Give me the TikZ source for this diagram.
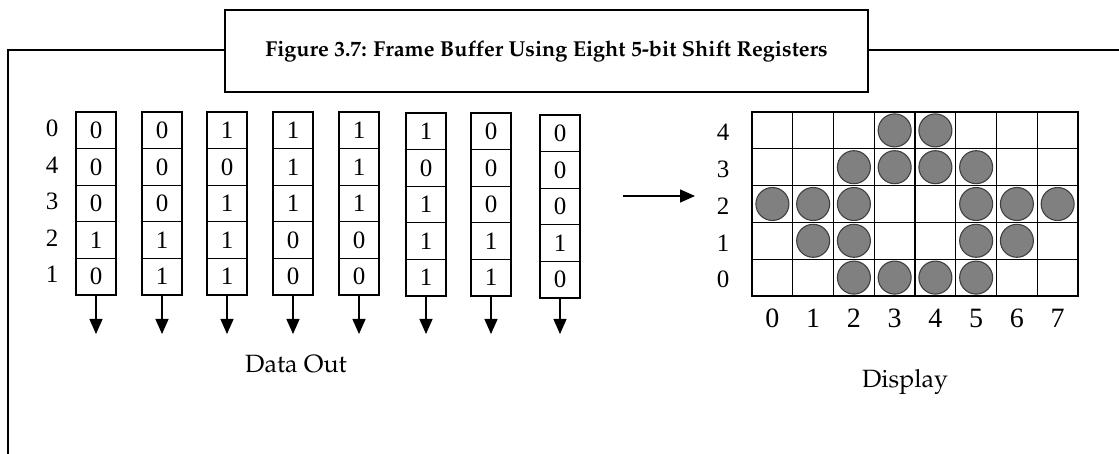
\documentclass[tikz,border=0pt]{standalone}
\usepackage{fontspec}
\setmainfont{Liberation Serif}
\usetikzlibrary{arrows.meta, positioning}
\colorlet{dotgray}{black!50}
\newcommand{\palfont}{\fontencoding{T1}\fontfamily{ppl}\selectfont}

\begin{document}
\begin{tikzpicture}[x=1pt, y=-1pt, >={Triangle[length=15pt, width=13pt]},
    bit/.style={draw, line width=1.2pt, minimum width=40pt, minimum height=36.6pt,
      inner sep=0pt, font=\fontsize{25}{25}\selectfont},
    cell/.style={draw, line width=1.3pt, minimum width=40.75pt, minimum height=36.8pt, inner sep=0pt},
    dot/.style={circle, draw=black!75, line width=1.1pt, fill=dotgray, minimum size=33pt, inner sep=0pt},
    lbl/.style={font=\fontsize{25}{25}\selectfont},
    caption/.style={font=\palfont\fontsize{25}{25}\selectfont}]
  \useasboundingbox (0,0) rectangle (1119,454);

  % title box and frame
  \node[draw, line width=2.6pt, minimum width=643pt, minimum height=82pt,
        font=\palfont\bfseries\fontsize{21.6}{22}\selectfont] (title) at (546.5,51)
        {Figure 3.7: Frame Buffer Using Eight 5-bit Shift Registers};
  \draw[line width=2.4pt] (8,454) -- (8,50) -- (title.west |- 0,50);
  \draw[line width=2.4pt] (title.east |- 0,50) -- (1119,50);

  % the eight shift registers
  \foreach \c/\xl/\yt/\bits in {0/76/112/{0,0,0,1,0}, 1/142/112/{0,0,0,1,1},
      2/207/112/{1,0,1,1,1}, 3/273/112/{1,1,1,0,0}, 4/339/112/{1,1,1,0,0},
      5/406/113/{1,0,1,1,1}, 6/471/113/{0,0,0,1,1}, 7/540/115/{0,0,0,1,0}} {
    \foreach \v [count=\r] in \bits
      \node[bit] (r\c-\r) at (\xl+20, \yt+18.3+36.6*\r-36.6) {\v};
    \coordinate (out\c) at (\xl+20, 334);
    \draw[->, line width=1.4pt] (r\c-5.south) -- (out\c);
  }
  \foreach \t [count=\r] in {0,4,3,2,1}
    \node[lbl] (rl\r) at (52, 128.3+36.6*\r-36.6) {\t};
  \node[caption] (dataout) at (296,364) {Data Out};

  % shift into the display
  \coordinate (from) at (623,196);
  \coordinate (to) at (695,196);
  \draw[->, line width=1.4pt] (from) -- (to);

  % display: 8 columns by 5 rows
  \foreach \i in {0,...,7}
    \foreach \j in {0,...,4}
      \node[cell] (d\i-\j) at (772.4+40.75*\i, 277.6-36.8*\j) {};
  \foreach \j in {0,...,4}
    \node[lbl] (dl\j) at (723, 279.6-36.8*\j) {\j};
  \foreach \i in {0,...,7}
    \node[lbl, font=\fontsize{28}{28}\selectfont] (dc\i) at (d\i-0 |- 0,318) {\i};
  \foreach \i/\j in {3/4, 4/4, 2/3, 3/3, 4/3, 5/3, 0/2, 1/2, 2/2, 5/2, 6/2, 7/2,
      1/1, 2/1, 5/1, 6/1, 2/0, 3/0, 4/0, 5/0}
    \node[dot] at (d\i-\j) {};
  \node[caption] (display) at (905,382) {Display};
\end{tikzpicture}
\end{document}
